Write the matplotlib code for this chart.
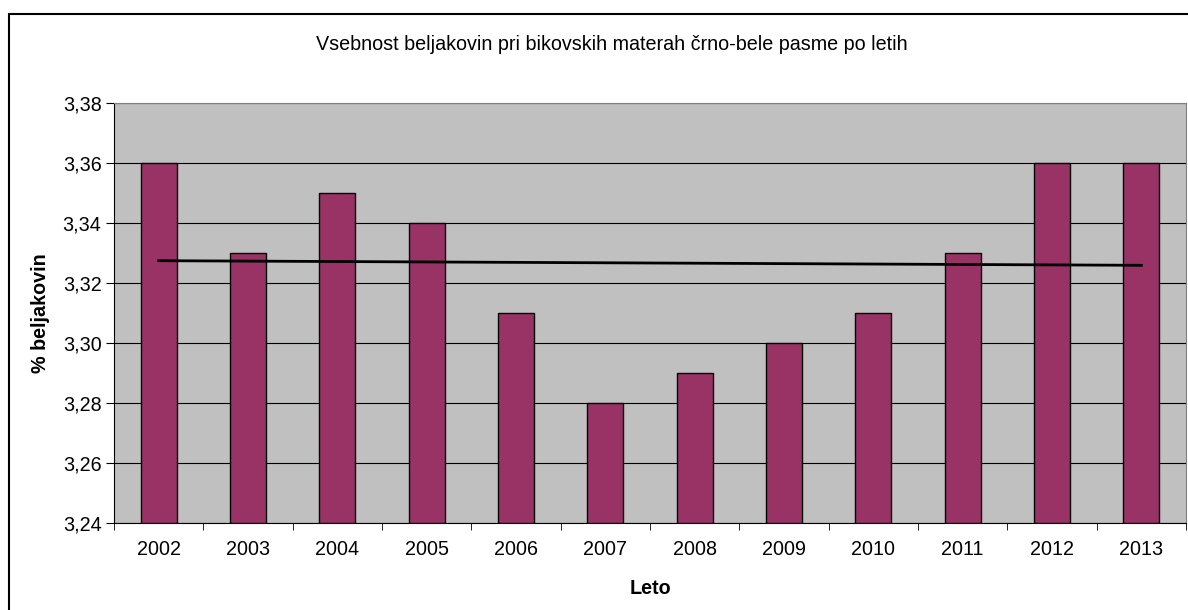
import numpy as np
import matplotlib.pyplot as plt
import matplotlib.patches as pat

years = ["2002", "2003", "2004", "2005", "2006", "2007",
         "2008", "2009", "2010", "2011", "2012", "2013"]
protein = [3.36, 3.33, 3.35, 3.34, 3.31, 3.28, 3.29, 3.30, 3.31, 3.33, 3.36, 3.36]
yticks = [3.24, 3.26, 3.28, 3.30, 3.32, 3.34, 3.36, 3.38]

plt.rcParams['font.family'] = ['Liberation Sans', 'DejaVu Sans']
fs = 14.2

fig = plt.figure(figsize=(11.88, 6.10), dpi=100)
ax = fig.add_axes([114/1188, 1-523/610, 1072/1188, 420/610])

x = np.arange(len(years))
ax.set_facecolor("#c0c0c0")
ax.bar(x, np.array(protein) - 3.24, bottom=3.24, width=0.4,
       color="#993366", edgecolor="black", linewidth=1, zorder=3)

# linear trend line
k, n = np.polyfit(x, protein, 1)
ax.plot([x[0], x[-1]], [k*x[0]+n, k*x[-1]+n], color="black", lw=2, zorder=4)

ax.set_xlim(-0.5, len(years) - 0.5)
ax.set_ylim(3.24, 3.38)
ax.set_yticks(yticks)
ax.set_yticklabels([f"{v:.2f}".replace(".", ",") for v in yticks], fontsize=fs)
ax.yaxis.grid(True, color="black", lw=0.8, zorder=1)
ax.set_axisbelow(True)

ax.set_xticks(x)
ax.set_xticklabels(years, fontsize=fs)
ax.set_xticks(np.arange(-0.5, len(years)), minor=True)
ax.tick_params(axis="x", which="major", length=0, pad=12)
ax.tick_params(axis="x", which="minor", length=5, direction="out")
ax.tick_params(axis="y", length=6, direction="out", pad=3)

for s in ["top", "right"]:
    ax.spines[s].set_color("#808080")
ax.spines["left"].set_color("black")
ax.spines["bottom"].set_color("black")

ax.set_xlabel("Leto", fontsize=fs, fontweight="bold", labelpad=15)
ax.set_ylabel("% beljakovin", fontsize=fs, fontweight="bold", labelpad=9)

fig.text(612/1188, 1-44/610, "Vsebnost beljakovin pri bikovskih materah črno-bele pasme po letih",
         ha="center", va="center", fontsize=fs)

# outer chart border
fig.patches.append(pat.Rectangle((9/1188, -0.1), 1.2, 1.1 - 14/610,
                                 transform=fig.transFigure, fill=False,
                                 edgecolor="black", lw=1.5))

fig.savefig("out.png", dpi=100)
